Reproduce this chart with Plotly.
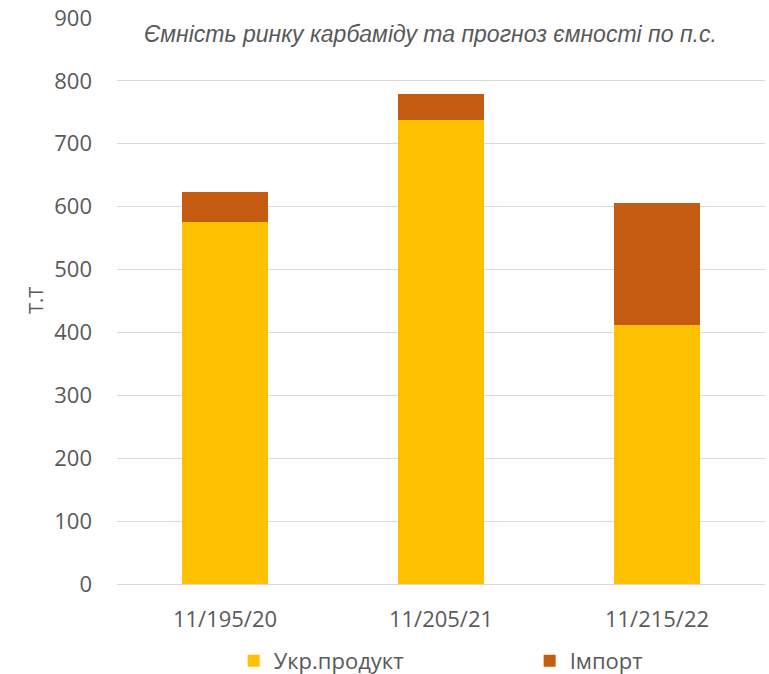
import plotly.graph_objects as go

categories = ["11/195/20", "11/205/21", "11/215/22"]
ukr_product = [576, 738, 412]
imports = [47, 41, 194]
series_names = ["Укр.продукт", "Імпорт"]
y_ticks = [0, 100, 200, 300, 400, 500, 600, 700, 800, 900]
title_text = "Ємність ринку карбаміду та прогноз ємності по п.с."
y_title = "Т.Т"

TEXT = "#595959"
TICK_FONT = dict(family="Open Sans", size=22, color=TEXT)

fig = go.Figure()
fig.add_trace(go.Bar(x=categories, y=ukr_product, name=series_names[0],
                     marker=dict(color="#FFC000", line=dict(width=0))))
fig.add_trace(go.Bar(x=categories, y=imports, name=series_names[1],
                     marker=dict(color="#C55A11", line=dict(width=0))))

fig.update_layout(
    width=769, height=674,
    barmode="stack", bargap=0.6,
    margin=dict(l=117, r=4, t=18, b=90, autoexpand=False),
    plot_bgcolor="white", paper_bgcolor="white",
    showlegend=True,
    legend=dict(orientation="h", x=0.180, xanchor="left", y=(674 - 661 - 90) / 566,
                yanchor="middle",
                font=dict(family="Open Sans", size=22, color=TEXT),
                entrywidth=251, entrywidthmode="pixels", itemwidth=30,
                traceorder="normal"),
    annotations=[
        dict(text="<i>" + title_text + "</i>", xref="paper", yref="paper",
             x=(430 - 117) / 648, y=(674 - 34 - 90) / 566,
             showarrow=False, xanchor="center", yanchor="middle",
             font=dict(family="Liberation Sans", size=23, color=TEXT)),
        dict(text=y_title, xref="paper", yref="paper", x=(35 - 117) / 648, y=0.5,
             showarrow=False, xanchor="center", yanchor="middle", textangle=-90,
             font=dict(family="Open Sans", size=20, color=TEXT)),
    ],
)

fig.update_yaxes(range=[0, 900], tickvals=y_ticks, showgrid=True, gridcolor="#D9D9D9",
                 gridwidth=1, zeroline=False, showline=False, tickfont=TICK_FONT,
                 ticklabelstandoff=24, fixedrange=True, automargin=False)
fig.update_xaxes(showgrid=False, showline=True, linecolor="#D9D9D9", linewidth=1,
                 tickfont=TICK_FONT, ticklabelstandoff=16, fixedrange=True, automargin=False)

fig.write_html("out.html", config={"displayModeBar": False},
               post_script="document.body.style.margin='0';")
